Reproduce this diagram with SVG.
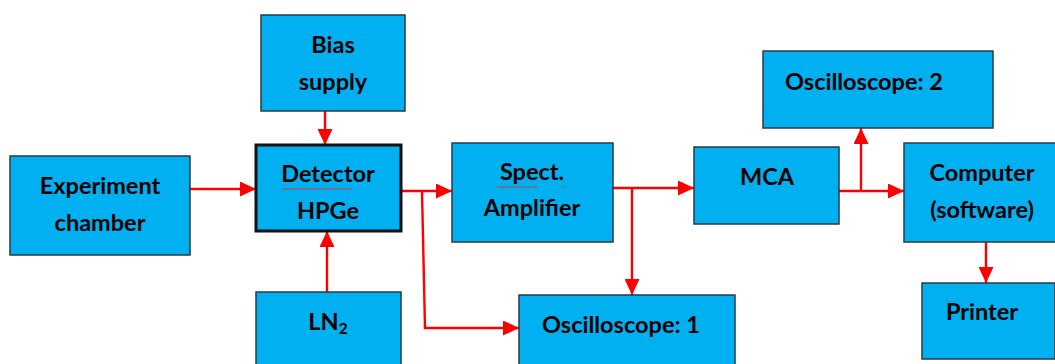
<svg xmlns="http://www.w3.org/2000/svg" width="1055" height="364" viewBox="0 0 1055 364">
<style>
.box{fill:#00B0F0;stroke:#2b3a44;stroke-width:1.5}
.thick{fill:#00B0F0;stroke:#111;stroke-width:3}
.t{font-family:Lato,"Liberation Sans",sans-serif;font-weight:700;font-size:23.5px;fill:#000;text-anchor:middle}
.ts{font-family:Lato,"Liberation Sans",sans-serif;font-weight:700;font-size:23.5px;fill:#000}
.c{fill:none;stroke:#FF0000;stroke-width:2.4}
.sq{fill:none;stroke:#E03030;stroke-width:0.9}
</style>
<defs>
<marker id="a" viewBox="0 0 16 15" refX="16" refY="7.5" markerWidth="16" markerHeight="15" markerUnits="userSpaceOnUse" orient="auto">
<path d="M0,0 L16,7.5 L0,15 Z" fill="#FF0000"/>
</marker>
</defs>
<g id="connectors">
<path class="c" d="M190,189 H256" marker-end="url(#a)"/>
<path class="c" d="M325,111 V145" marker-end="url(#a)"/>
<path class="c" d="M327,292 V231" marker-end="url(#a)"/>
<path class="c" d="M401,191 H452" marker-end="url(#a)"/>
<path class="c" d="M422,191 L425,328 H519" marker-end="url(#a)"/>
<path class="c" d="M613,188 H694" marker-end="url(#a)"/>
<path class="c" d="M632,188 V295" marker-end="url(#a)"/>
<path class="c" d="M839,191 H904" marker-end="url(#a)"/>
<path class="c" d="M861,191 V128" marker-end="url(#a)"/>
<path class="c" d="M986,242 V283" marker-end="url(#a)"/>
</g>
<g id="bias">
<rect class="box" x="261" y="15" width="144" height="96"/>
<text class="t" x="333" y="53">Bias</text>
<text class="t" x="333" y="90">supply</text>
</g>
<g id="chamber">
<rect class="box" x="10" y="156" width="180" height="99"/>
<text class="t" x="100" y="194">Experiment</text>
<text class="t" x="100" y="231">chamber</text>
</g>
<g id="detector">
<rect class="thick" x="256" y="145" width="145" height="86"/>
<text class="t" x="328" y="182">Detector</text>
<path class="sq" d="M282,188 l2,2 l2,-2 l2,2 l2,-2 l2,2 l2,-2 l2,2 l2,-2 l2,2 l2,-2 l2,2 l2,-2 l2,2 l2,-2 l2,2 l2,-2 l2,2 l2,-2 l2,2 l2,-2 l2,2 l2,-2 l2,2 l2,-2 l2,2 l2,-2 l2,2 l2,-2 l2,2 l2,-2 l2,2 l2,-2 l2,2 l2,-2 l2,2"/>
<text class="t" x="328" y="219">HPGe</text>
</g>
<g id="ln2">
<rect class="box" x="256" y="292" width="145" height="80"/>
<text class="t" x="328" y="330">LN<tspan font-size="16" dy="4">2</tspan></text>
</g>
<g id="spect">
<rect class="box" x="452" y="143" width="161" height="99"/>
<text class="t" x="532" y="180">Spect.</text>
<path class="sq" d="M497,186 l2,2 l2,-2 l2,2 l2,-2 l2,2 l2,-2 l2,2 l2,-2 l2,2 l2,-2 l2,2 l2,-2 l2,2 l2,-2 l2,2 l2,-2 l2,2 l2,-2 l2,2 l2,-2"/>
<path d="M559,186 l2,2 l2,-2 l2,2" fill="none" stroke="#3a9a3a" stroke-width="0.9"/>
<text class="t" x="532" y="216">Amplifier</text>
</g>
<g id="osc1">
<rect class="box" x="519" y="295" width="216" height="80"/>
<text class="ts" x="542" y="333">Oscilloscope: 1</text>
</g>
<g id="mca">
<rect class="box" x="694" y="147" width="145" height="77"/>
<text class="t" x="767" y="185">MCA</text>
</g>
<g id="osc2">
<rect class="box" x="763" y="51" width="230" height="77"/>
<text class="ts" x="785" y="90">Oscilloscope: 2</text>
</g>
<g id="computer">
<rect class="box" x="904" y="143" width="152" height="99"/>
<text class="t" x="982" y="181">Computer</text>
<text class="t" x="982" y="218">(software)</text>
</g>
<g id="printer">
<rect class="box" x="922" y="283" width="133" height="76"/>
<text class="t" x="982" y="320">Printer</text>
</g>
</svg>
